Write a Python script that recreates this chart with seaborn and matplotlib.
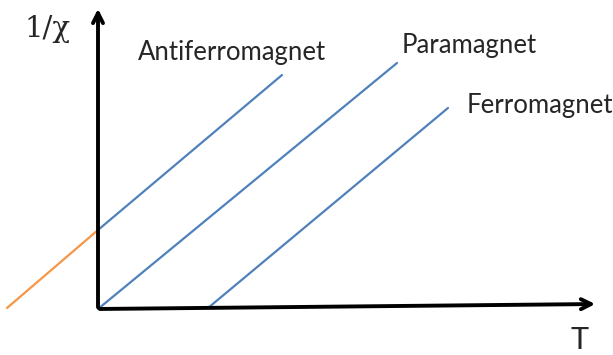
import pandas as pd
import seaborn as sns
import matplotlib.pyplot as plt

# =========================
# DADOS (curvas 1/chi x T)
# =========================

curvas = ['Antiferromagnet', 'Antiferromagnet', 'Paramagnet', 'Paramagnet', 'Ferromagnet', 'Ferromagnet']
temp = [0, 184, 0, 299, 110, 350]
inv_chi = [79, 234, 0, 246, 1, 201]

extrap_t = [-91, 0]
extrap_chi = [1, 79]

rotulos = ['Antiferromagnet', 'Paramagnet', 'Ferromagnet']
rot_x = [40, 304, 369]
rot_y = [249, 256, 196]

dados = pd.DataFrame({'curva': curvas, 'T': temp, 'inv_chi': inv_chi})
extrap = pd.DataFrame({'T': extrap_t, 'inv_chi': extrap_chi})

# =========================
# FIGURA
# =========================

sns.set_style('white')
fig = plt.figure(figsize=(6.13, 3.55), dpi=100)
ax = fig.add_axes([0, 0, 1, 1])

azul = '#4F81BD'
laranja = '#F79646'

sns.lineplot(data=dados, x='T', y='inv_chi', units='curva', estimator=None,
             color=azul, linewidth=1.6, ax=ax, legend=False)
sns.lineplot(data=extrap, x='T', y='inv_chi', color=laranja, linewidth=1.6, ax=ax, legend=False)

ax.set_xlim(-98, 515)
ax.set_ylim(-46, 309)
ax.axis('off')

# eixos com setas
ax.annotate('', xy=(0, 303), xytext=(0, -1),
            arrowprops=dict(arrowstyle='->', color='black', lw=2.8, mutation_scale=18))
ax.annotate('', xy=(500, 5), xytext=(-1, 0),
            arrowprops=dict(arrowstyle='->', color='black', lw=2.8, mutation_scale=18))

for r, x, y in zip(rotulos, rot_x, rot_y):
    ax.text(x, y, r, fontsize=18.5, family='Lato', va='baseline', ha='left')

ax.text(-51, 280, '1/χ', fontsize=21, family='DejaVu Serif', va='center', ha='center')
ax.text(482, -31, 'T', fontsize=22, family='Lato', va='center', ha='center')

plt.savefig('out.png', dpi=100)
